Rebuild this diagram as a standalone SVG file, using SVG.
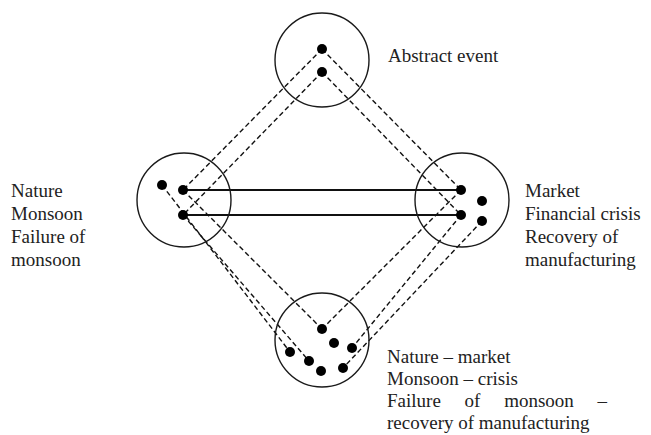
<svg xmlns="http://www.w3.org/2000/svg" width="651" height="435" viewBox="0 0 651 435">
<style>
.c{fill:none;stroke:#1a1a1a;stroke-width:1.4}
.d{fill:#000}
.s{stroke:#111;stroke-width:2;fill:none}
.ds{stroke:#111;stroke-width:1.4;stroke-dasharray:5 3;fill:none}
.t{font-family:'Liberation Serif','Times New Roman','DejaVu Serif',serif;font-size:19px;fill:#222}
</style>
<rect width="651" height="435" fill="#fff"/>
<g id="connectors">
<line class="s" x1="183" y1="190" x2="461" y2="190"/>
<line class="s" x1="183" y1="215" x2="461" y2="215"/>
<line class="ds" x1="322" y1="49" x2="183" y2="190"/>
<line class="ds" x1="322" y1="72" x2="183" y2="215"/>
<line class="ds" x1="322" y1="49" x2="461" y2="190"/>
<line class="ds" x1="322" y1="72" x2="461" y2="215"/>
<line class="ds" x1="162" y1="185" x2="290" y2="352"/>
<line class="ds" x1="183" y1="215" x2="309" y2="361"/>
<line class="ds" x1="183" y1="190" x2="322" y2="329"/>
<line class="ds" x1="461" y1="190" x2="322" y2="329"/>
<line class="ds" x1="461" y1="215" x2="352" y2="348"/>
<line class="ds" x1="482" y1="221" x2="343" y2="368"/>
</g>
<g id="node-abstract">
<circle class="c" cx="322" cy="60" r="47"/>
<circle class="d" cx="322" cy="49" r="5"/>
<circle class="d" cx="322" cy="72" r="5"/>
<text class="t" font-family="Liberation Serif, serif" x="388" y="62">Abstract event</text>
</g>
<g id="node-nature">
<circle class="c" cx="184" cy="200" r="47"/>
<circle class="d" cx="162" cy="185" r="5"/>
<circle class="d" cx="183" cy="190" r="5"/>
<circle class="d" cx="183" cy="215" r="5"/>
<text class="t" font-family="Liberation Serif, serif" x="11" y="197">Nature</text>
<text class="t" font-family="Liberation Serif, serif" x="11" y="220">Monsoon</text>
<text class="t" font-family="Liberation Serif, serif" x="11" y="243">Failure of</text>
<text class="t" font-family="Liberation Serif, serif" x="11" y="266">monsoon</text>
</g>
<g id="node-market">
<circle class="c" cx="462" cy="200" r="47"/>
<circle class="d" cx="461" cy="190" r="5"/>
<circle class="d" cx="461" cy="215" r="5"/>
<circle class="d" cx="482" cy="201" r="5"/>
<circle class="d" cx="482" cy="221" r="5"/>
<text class="t" font-family="Liberation Serif, serif" x="525" y="197">Market</text>
<text class="t" font-family="Liberation Serif, serif" x="525" y="220">Financial crisis</text>
<text class="t" font-family="Liberation Serif, serif" x="525" y="243">Recovery of</text>
<text class="t" font-family="Liberation Serif, serif" x="525" y="266">manufacturing</text>
</g>
<g id="node-combined">
<circle class="c" cx="322" cy="340" r="47"/>
<circle class="d" cx="322" cy="329" r="5"/>
<circle class="d" cx="334" cy="343" r="5"/>
<circle class="d" cx="352" cy="348" r="5"/>
<circle class="d" cx="290" cy="352" r="5"/>
<circle class="d" cx="309" cy="361" r="5"/>
<circle class="d" cx="321" cy="371" r="5"/>
<circle class="d" cx="343" cy="368" r="5"/>
<text class="t" font-family="Liberation Serif, serif" x="387" y="363">Nature – market</text>
<text class="t" font-family="Liberation Serif, serif" x="387" y="385">Monsoon – crisis</text>
<text class="t" font-family="Liberation Serif, serif" x="387" y="407" word-spacing="19">Failure of monsoon –</text>
<text class="t" font-family="Liberation Serif, serif" x="387" y="429">recovery of manufacturing</text>
</g>
</svg>
